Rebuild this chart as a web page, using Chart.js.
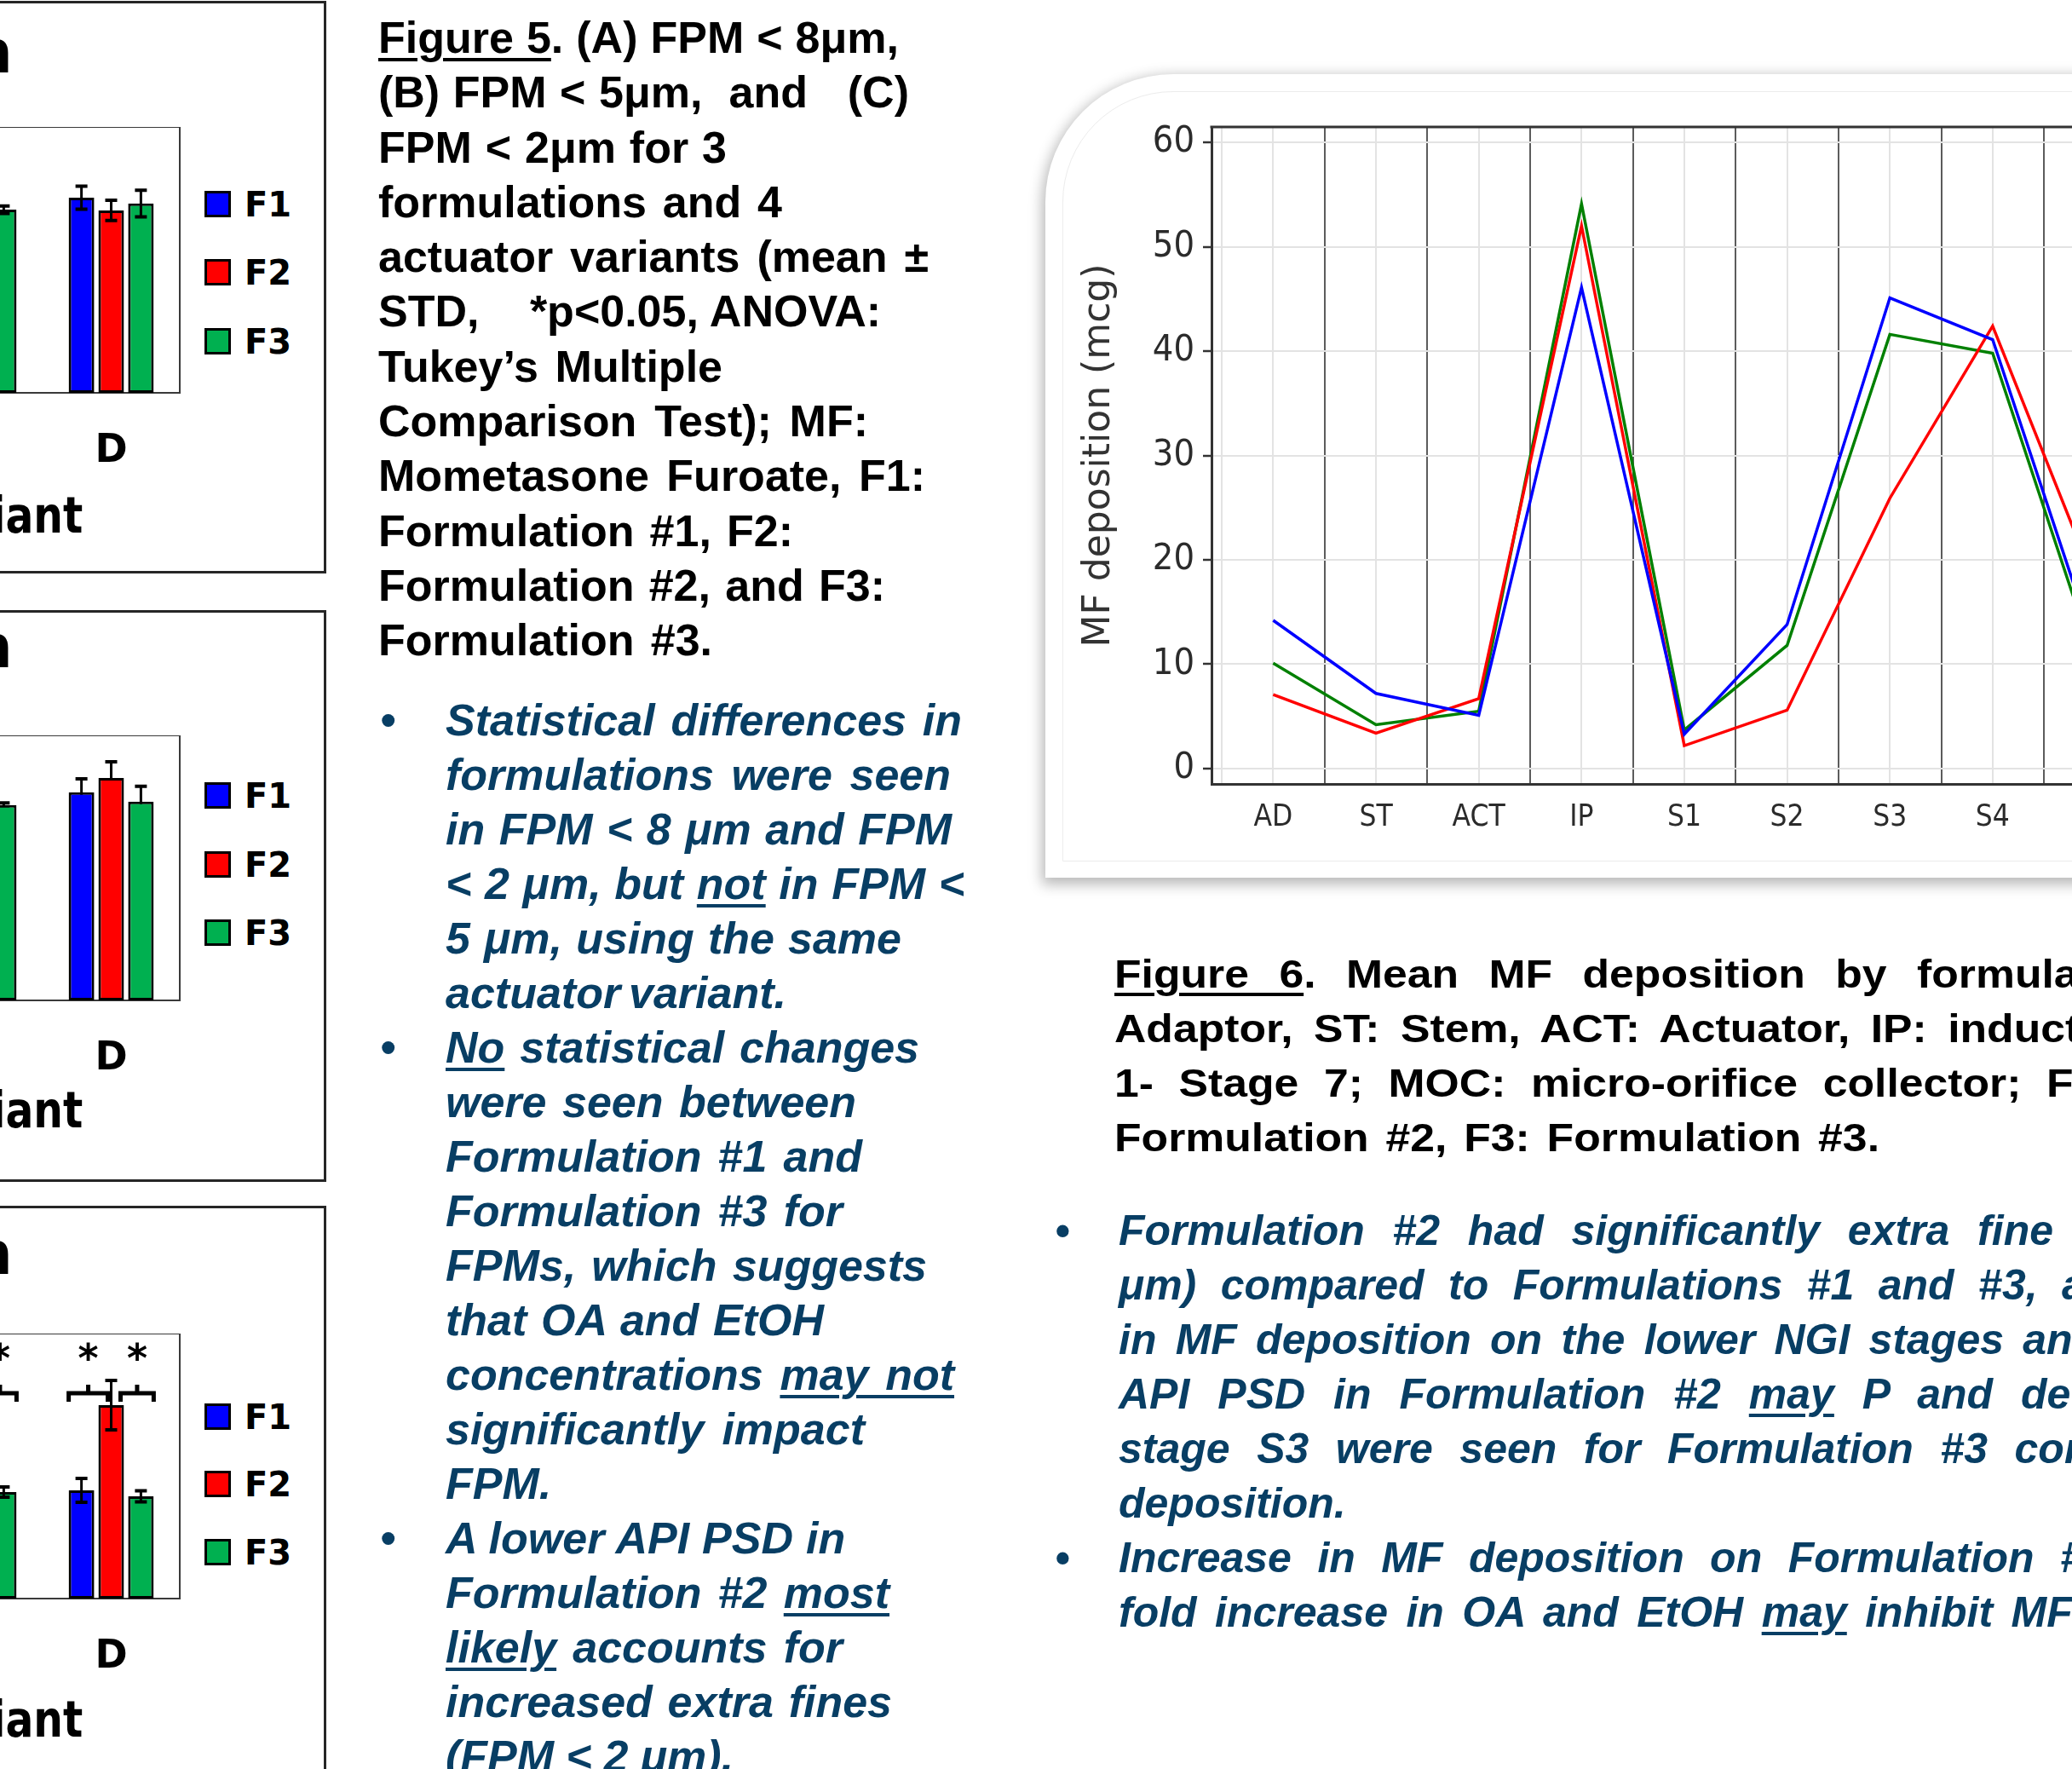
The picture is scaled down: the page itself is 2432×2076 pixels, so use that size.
<!DOCTYPE html>
<html>
<head>
<meta charset="utf-8">
<title>Figure 5 and Figure 6</title>
<script src="https://cdn.jsdelivr.net/npm/chart.js@4.4.1/dist/chart.umd.min.js"></script>
<style>
  html, body { margin:0; padding:0; background:#ffffff; overflow:hidden; }
  body { position:relative; width:2432px; height:2076px; }
  .panel { position:absolute; left:-30px; width:413px; box-sizing:border-box; border:3px solid #262626; background:#fff; }
  .txt { position:absolute; white-space:pre; line-height:1; margin:0; }
  .blk { font-family:'Liberation Sans', Arial, sans-serif; font-weight:bold; color:#000; }
  .navy { font-family:'Liberation Sans', Arial, sans-serif; font-weight:bold; font-style:italic; color:#083e64; }
  .dv { font-family:'DejaVu Sans', Verdana, sans-serif; font-weight:bold; color:#000; }
  .narrowx { transform:scaleX(0.84); transform-origin:100% 50%; }
  u { text-decoration-thickness:4px; text-underline-offset:6px; }
  canvas { position:absolute; }
  .chartbox { position:absolute; left:1227px; top:87px; width:1400px; height:943px; background:#fff;
              border-top-left-radius:150px; box-shadow:-1px 5px 16px 3px rgba(0,0,0,0.28); }
  .chartinner { position:absolute; left:1247px; top:107px; width:1400px; height:904px; box-sizing:border-box;
                border:1.5px solid #ececec; border-top-left-radius:130px; }
  .sw { position:absolute; width:31px; height:31px; box-sizing:border-box; border:3.5px solid #000; }
</style>
</head>
<body>
<div class="chartbox"></div>
<div class="chartinner"></div>
<canvas id="mfChart" width="1700" height="930" style="left:1230px;top:100px;width:1700px;height:930px"></canvas>

<div class="panel" style="top:1px;height:672px"></div>
<div class="panel" style="top:716px;height:671px"></div>
<div class="panel" style="top:1415px;height:720px"></div>
<canvas id="fpm8" width="660" height="422" style="left:-433px;top:149px;width:660px;height:422px"></canvas>
<canvas id="fpm5" width="660" height="421" style="left:-433px;top:863px;width:660px;height:421px"></canvas>
<canvas id="fpm2" width="660" height="421" style="left:-433px;top:1565px;width:660px;height:421px"></canvas>

<script>
// ---------------- DATA ----------------
const actuatorVariants = ['A', 'B', 'C', 'D'];
const formulations = ['F1', 'F2', 'F3'];
const formulationColors = ['#0000ff', '#ff0000', '#00b050'];

// Figure 5 (relative bar heights; the left part of each panel is cropped)
const fpm8F1 = [null, null, null, 73.4];
const fpm8F2 = [null, null, null, 68.6];
const fpm8F3 = [null, null, 68.9, 71.2];
const fpm8F1Std = [null, null, null, 4.3];
const fpm8F2Std = [null, null, null, 3.8];
const fpm8F3Std = [null, null, 1.4, 5.0];

const fpm5F1 = [null, null, null, 78.5];
const fpm5F2 = [null, null, null, 83.9];
const fpm5F3 = [null, null, 73.7, 75.0];
const fpm5F1Std = [null, null, null, 5.1];
const fpm5F2Std = [null, null, null, 6.1];
const fpm5F3Std = [null, null, 0.8, 5.8];

const fpm2F1 = [null, null, null, 40.8];
const fpm2F2 = [null, null, null, 73.0];
const fpm2F3 = [null, null, 40.2, 38.6];
const fpm2F1Std = [null, null, null, 4.5];
const fpm2F2Std = [null, null, null, 9.3];
const fpm2F3Std = [null, null, 1.9, 2.1];

// significant pairs in FPM < 2 µm: [variant index, formulation a, formulation b]
const fpm2Significant = [[2, 1, 2], [3, 0, 1], [3, 1, 2]];

const panelTitles = ['(A) FPM < 8 μm', '(B) FPM < 5 μm', '(C) FPM < 2 μm'];
const xAxisTitle = 'Actuator Variant';

// Figure 6: mean MF deposition (mcg) per NGI stage
const ngiStages = ['AD', 'ST', 'ACT', 'IP', 'S1', 'S2', 'S3', 'S4', 'S5', 'S6', 'S7', 'MOC'];
const mfF1 = [14.2, 7.2, 5.1, 46.1, 3.3, 13.8, 45.1, 41.1, 11.4, null, null, null];
const mfF2 = [7.1, 3.4, 6.7, 52.0, 2.2, 5.6, 25.9, 42.4, 17.7, null, null, null];
const mfF3 = [10.1, 4.2, 5.5, 54.1, 3.7, 11.8, 41.6, 39.8, 10.1, null, null, null];
const mfTicks = [0, 10, 20, 30, 40, 50, 60];

// ---------------- TEXT ----------------
const fig5Caption = [
  '_Figure 5_. (A) FPM < 8μm,',
  '(B) FPM < 5μm,  and   (C)',
  'FPM < 2μm for 3',
  'formulations and 4',
  'actuator variants (mean ±',
  'STD,    *p<0.05, ANOVA:',
  'Tukey’s Multiple',
  'Comparison Test); MF:',
  'Mometasone Furoate, F1:',
  'Formulation #1, F2:',
  'Formulation #2, and F3:',
  'Formulation #3.'
];
const fig5Bullets = [
  'Statistical differences in',
  'formulations were seen',
  'in FPM < 8 μm and FPM',
  '< 2 μm, but _not_ in FPM <',
  '5 μm, using the same',
  'actuator variant.',
  '_No_ statistical changes',
  'were seen between',
  'Formulation #1 and',
  'Formulation #3 for',
  'FPMs, which suggests',
  'that OA and EtOH',
  'concentrations _may not_',
  'significantly impact',
  'FPM.',
  'A lower API PSD in',
  'Formulation #2 _most_',
  '_likely_ accounts for',
  'increased extra fines',
  '(FPM < 2 μm).'
];
const fig5BulletStarts = [0, 6, 15];
const fig6Caption = [
  '_Figure 6_. Mean MF deposition by formulation and NGI stage. AD:',
  'Adaptor, ST: Stem, ACT: Actuator, IP: induction port, S1-S7: Stage',
  '1- Stage 7; MOC: micro-orifice collector; F1: Formulation #1, F2:',
  'Formulation #2, F3: Formulation #3.'
];
const fig6Bullets = [
  'Formulation #2 had significantly extra fine particles (< 2',
  'μm) compared to Formulations #1 and #3, and an increase',
  'in MF deposition on the lower NGI stages and MOC. Lower',
  'API PSD in Formulation #2 _may_ P and decrease in',
  'stage S3 were seen for Formulation #3 compared to',
  'deposition.',
  'Increase in MF deposition on Formulation #3 with a 2-',
  'fold increase in OA and EtOH _may_ inhibit MF deposition'
];
const fig6BulletStarts = [0, 6];

// ---------------- LAYOUT (text placement) ----------------
const fig5CaptionRight = [1055, 1067, 853, 918, 1090, 1036, 848, 1019, 1086, 931, 1039, 836];
const fig5BulletRight = [1129, 1116, 1117, 1132, 1058, 923, 1079, 1005, 1012, 989, 1088, 969, 1120, 1015, 645, 996, 1044, 989, 1047, 861];
const fig6CaptionFit = [['Figure 6. Mean MF deposition by ', 2250], ['Adaptor, ST: Stem, ACT: Actuator, IP: ', 2290],
                        ['1- Stage 7; MOC: micro-orifice collector; ', 2402], [null, 2206]];
const fig6BulletFit = [['Formulation #2 had significantly extra fine', 2410], ['μm) compared to Formulations #1 and #3, ', 2420],
                       ['in MF deposition on the lower NGI stages', 2352], ['API PSD in Formulation #2 may P and', 2341],
                       ['stage S3 were seen for Formulation #3', 2333], [null, 0],
                       ['Increase in MF deposition on Formulation ', 2418], ['fold increase in OA and EtOH may inhibit', 2341]];

const measureCtx = document.createElement('canvas').getContext('2d');
function addText(line, x, base, fs, cls, fitPrefix, fitTarget, sx) {
  sx = sx || 1;
  const d = document.createElement('div');
  d.className = 'txt ' + cls;
  d.style.left = x + 'px';
  d.style.top = (base - 0.847 * fs) + 'px';
  d.style.fontSize = fs + 'px';
  if (sx !== 1) { d.style.transform = 'scaleX(' + sx + ')'; d.style.transformOrigin = '0 50%'; }
  line.split('_').forEach((p, i) => {
    if (!p) return;
    if (i % 2) { const u = document.createElement('u'); u.textContent = p; d.appendChild(u); }
    else d.appendChild(document.createTextNode(p));
  });
  document.body.appendChild(d);
  if (fitTarget) {
    const plain = line.replace(/_/g, '');
    const prefix = fitPrefix || plain;
    const italic = cls.indexOf('navy') >= 0 ? 'italic ' : '';
    measureCtx.font = italic + 'bold ' + fs + "px 'Liberation Sans', Arial, sans-serif";
    const natural = measureCtx.measureText(prefix).width;
    const n = (prefix.match(/ /g) || []).length;
    if (n > 0) d.style.wordSpacing = (((fitTarget - x) / sx - natural) / n).toFixed(2) + 'px';
  }
  return d;
}
function addRightText(text, right, base, fs, cls) {
  const d = document.createElement('div');
  d.className = 'txt ' + cls;
  d.style.right = (2432 - right) + 'px';
  d.style.top = (base - 0.847 * fs) + 'px';
  d.style.fontSize = fs + 'px';
  d.textContent = text;
  document.body.appendChild(d);
}

// Figure 5 caption (black) and bullets (navy)
fig5Caption.forEach((l, i) => addText(l, 444, 62 + 64.3 * i, 52, 'blk', null, fig5CaptionRight[i]));
fig5Bullets.forEach((l, i) => {
  const base = 863 + 64 * i;
  addText(l, 523, base, 52, 'navy', null, fig5BulletRight[i]);
  if (fig5BulletStarts.includes(i)) addText('•', 446, base, 52, 'navy');
});
// Figure 6 caption and bullets
fig6Caption.forEach((l, i) => addText(l, 1308, 1159 + 64 * i, 47, 'blk', fig6CaptionFit[i][0], fig6CaptionFit[i][1], 1.1));
fig6Bullets.forEach((l, i) => {
  const base = 1461 + 64 * i;
  addText(l, 1313, base, 50, 'navy', fig6BulletFit[i][0], fig6BulletFit[i][1]);
  if (fig6BulletStarts.includes(i)) addText('•', 1238, base, 50, 'navy');
});

// Panel titles, axis titles and legends for Figure 5
const panelTitleBase = [85, 783, 1495];
const panelAxisBase = [625, 1323, 2038];
const legendCenters = [[239, 319.5, 400], [933, 1014, 1094], [1662, 1741, 1821]];
panelTitles.forEach((t, p) => {
  addRightText(t, 15, panelTitleBase[p], 69, 'dv');
  addRightText(xAxisTitle, 97, panelAxisBase[p], 58, 'dv narrowx');
  formulations.forEach((f, k) => {
    const cy = legendCenters[p][k];
    const sw = document.createElement('div');
    sw.className = 'sw';
    sw.style.left = '240px';
    sw.style.top = (cy - 15.5) + 'px';
    sw.style.background = formulationColors[k];
    document.body.appendChild(sw);
    addText(f, 287, cy + 14.6, 40, 'dv');
  });
});

// ---------------- CHART PLUGINS ----------------
function drawErrorBars(chart) {
  const ctx = chart.ctx, y = chart.scales.y;
  ctx.save();
  ctx.strokeStyle = '#000';
  chart.data.datasets.forEach((ds, di) => {
    const meta = chart.getDatasetMeta(di);
    ds.data.forEach((v, i) => {
      const e = ds.std ? ds.std[i] : null;
      if (v == null || e == null) return;
      const x = meta.data[i].x;
      const yt = y.getPixelForValue(v + e), yb = y.getPixelForValue(v - e);
      ctx.lineWidth = 3;
      ctx.beginPath(); ctx.moveTo(x, yt); ctx.lineTo(x, yb); ctx.stroke();
      ctx.lineWidth = 4;
      ctx.beginPath();
      ctx.moveTo(x - 7, yt); ctx.lineTo(x + 7, yt);
      ctx.moveTo(x - 7, yb); ctx.lineTo(x + 7, yb);
      ctx.stroke();
    });
  });
  ctx.restore();
}
const errorBarPlugin = {
  id: 'errorBars',
  beforeDatasetsDraw(chart, args, o) { if (o && o.behind) drawErrorBars(chart); },
  afterDatasetsDraw(chart, args, o) { if (!(o && o.behind)) drawErrorBars(chart); }
};
const plotFramePlugin = {
  id: 'plotFrame',
  beforeDatasetsDraw(chart) {
    const a = chart.chartArea, ctx = chart.ctx;
    ctx.save(); ctx.strokeStyle = '#3a3a3a'; ctx.lineWidth = 2;
    ctx.strokeRect(a.left, a.top, a.right - a.left, a.bottom - a.top);
    ctx.restore();
  }
};
const bracketPlugin = {
  id: 'brackets',
  afterDatasetsDraw(chart, args, o) {
    if (!o || !o.pairs) return;
    const ctx = chart.ctx, y = chart.scales.y;
    const yl = y.getPixelForValue(o.level), ys = y.getPixelForValue(o.starLevel);
    ctx.save();
    ctx.strokeStyle = '#000'; ctx.fillStyle = '#000'; ctx.lineWidth = 5;
    ctx.font = "bold 46px 'DejaVu Sans'"; ctx.textAlign = 'center'; ctx.textBaseline = 'alphabetic';
    o.pairs.forEach(([cat, a, b]) => {
      const ea = chart.getDatasetMeta(a).data[cat], eb = chart.getDatasetMeta(b).data[cat];
      const w = ea.width;
      const x1 = a === 0 ? ea.x - w / 2 : ea.x + 11;
      const x2 = a === 0 ? eb.x - 4 : eb.x + w / 2;
      const mid = (x1 + x2) / 2;
      ctx.beginPath();
      ctx.moveTo(x1, yl + 10); ctx.lineTo(x1, yl); ctx.lineTo(x2, yl); ctx.lineTo(x2, yl + 10);
      ctx.moveTo(mid, yl); ctx.lineTo(mid, yl - 10);
      ctx.stroke();
      ctx.fillText('*', mid, ys + 25);
    });
    ctx.restore();
  }
};

function fpmChart(id, f1, f2, f3, s1, s2, s3, pluginOpts) {
  return new Chart(document.getElementById(id), {
    type: 'bar',
    data: {
      labels: actuatorVariants,
      datasets: [
        { label: formulations[0], data: f1, std: s1, backgroundColor: formulationColors[0] },
        { label: formulations[1], data: f2, std: s2, backgroundColor: formulationColors[1] },
        { label: formulations[2], data: f3, std: s3, backgroundColor: formulationColors[2] }
      ]
    },
    options: {
      responsive: false, animation: false, devicePixelRatio: 1,
      layout: { padding: { left: 0, right: 16, top: 0, bottom: 0 } },
      datasets: { bar: { borderColor: '#000', borderWidth: 3, borderSkipped: false,
                         categoryPercentage: 0.65, barPercentage: 0.86 } },
      scales: {
        x: {
          grid: { display: false, drawTicks: false }, border: { display: false },
          ticks: { color: '#000', font: { family: "'DejaVu Sans', Verdana, sans-serif", weight: 'bold', size: 46 },
                   padding: 41, maxRotation: 0, autoSkip: false },
          afterFit(s) { s.height = 110; }
        },
        y: { display: false, min: 0, max: 100 }
      },
      plugins: Object.assign({ legend: { display: false }, tooltip: { enabled: false } }, pluginOpts)
    },
    plugins: [plotFramePlugin, errorBarPlugin, bracketPlugin]
  });
}

fpmChart('fpm8', fpm8F1, fpm8F2, fpm8F3, fpm8F1Std, fpm8F2Std, fpm8F3Std, { errorBars: { behind: false } });
fpmChart('fpm5', fpm5F1, fpm5F2, fpm5F3, fpm5F1Std, fpm5F2Std, fpm5F3Std, { errorBars: { behind: true } });
fpmChart('fpm2', fpm2F1, fpm2F2, fpm2F3, fpm2F1Std, fpm2F2Std, fpm2F3Std,
         { errorBars: { behind: false }, brackets: { pairs: fpm2Significant, level: 77.5, starLevel: 93.6 } });

// ---------------- FIGURE 6 LINE CHART ----------------
const topFramePlugin = {
  id: 'topFrame',
  afterDraw(chart) {
    const a = chart.chartArea, ctx = chart.ctx;
    ctx.save(); ctx.strokeStyle = '#333'; ctx.lineWidth = 3;
    ctx.beginPath(); ctx.moveTo(a.left - 1.5, a.top); ctx.lineTo(a.right, a.top); ctx.stroke();
    ctx.restore();
  }
};
const narrowFont = "'Liberation Sans Narrow', 'DejaVu Sans Condensed', 'Liberation Sans', sans-serif";
const stageTickValues = [];
for (let v = 0.5; v <= ngiStages.length + 0.5; v += 0.5) stageTickValues.push(v);
const toPoints = arr => ngiStages.map((s, i) => ({ x: i + 1, y: arr[i] }));

new Chart(document.getElementById('mfChart'), {
  type: 'line',
  data: {
    datasets: [
      { label: 'F1', data: toPoints(mfF1), borderColor: '#0000ff' },
      { label: 'F2', data: toPoints(mfF2), borderColor: '#ff0000' },
      { label: 'F3', data: toPoints(mfF3), borderColor: '#008000' }
    ]
  },
  options: {
    responsive: false, animation: false, devicePixelRatio: 1,
    layout: { padding: { top: 49, left: 0, right: 0, bottom: 0 } },
    elements: { line: { borderWidth: 3.5, tension: 0 }, point: { radius: 0 } },
    scales: {
      x: {
        type: 'linear', min: 0.4, max: 12.9,
        afterBuildTicks(s) { s.ticks = stageTickValues.map(v => ({ value: v })); },
        afterFit(s) { s.height = 110; },
        grid: {
          drawTicks: false, lineWidth: 2,
          color: c => {
            const v = c.tick ? c.tick.value : 0;
            return (Number.isInteger(v) || v < 1 || v > ngiStages.length) ? '#e3e3e3' : '#5c5c5c';
          }
        },
        border: { color: '#333', width: 3 },
        ticks: {
          autoSkip: false, maxRotation: 0, padding: 19, color: '#2b2b2b',
          font: { family: narrowFont, size: 35 },
          callback: v => (Number.isInteger(v) && v >= 1 && v <= ngiStages.length) ? ngiStages[v - 1] : ''
        }
      },
      y: {
        min: -1.47, max: 61.47,
        afterBuildTicks(s) { s.ticks = mfTicks.map(v => ({ value: v })); },
        afterFit(s) { s.width = 192; },
        grid: { color: '#e3e3e3', lineWidth: 2, tickLength: 10, tickColor: '#333', tickWidth: 2.5 },
        border: { color: '#333', width: 3 },
        ticks: { padding: 10, color: '#2b2b2b', font: { family: narrowFont, size: 43 } },
        title: { display: true, text: 'MF deposition (mcg)', color: '#333',
                 font: { family: "'DejaVu Sans', sans-serif", size: 44 }, padding: { top: 34, bottom: 0 } }
      }
    },
    plugins: { legend: { display: false }, tooltip: { enabled: false } }
  },
  plugins: [topFramePlugin]
});
</script>
</body>
</html>
